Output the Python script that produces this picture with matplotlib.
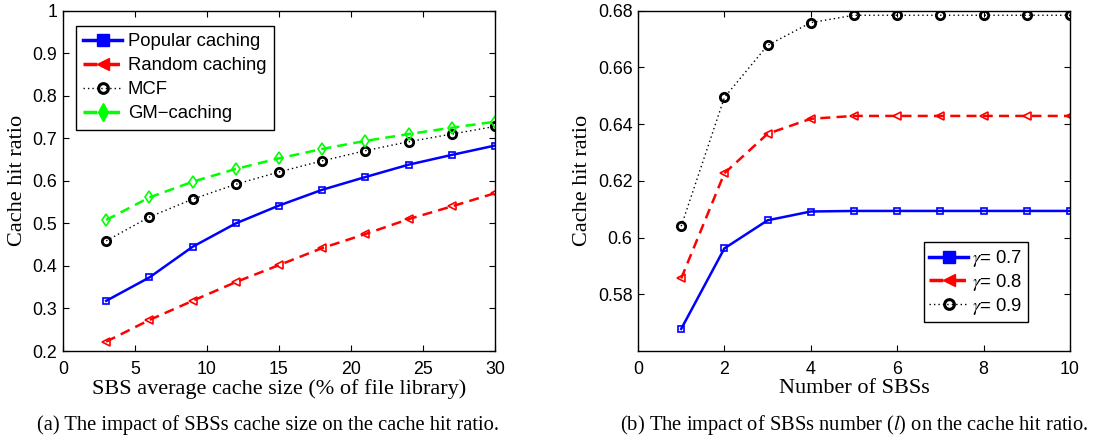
import numpy as np
import matplotlib.pyplot as plt
from matplotlib.lines import Line2D
from matplotlib.ticker import FormatStrFormatter

# (a) cache size sweep
cache_size = [3, 6, 9, 12, 15, 18, 21, 24, 27, 30]
popular = [0.318, 0.373, 0.445, 0.500, 0.542, 0.579, 0.609, 0.638, 0.661, 0.683]
random_c = [0.222, 0.273, 0.318, 0.362, 0.402, 0.442, 0.475, 0.510, 0.540, 0.571]
mcf = [0.459, 0.515, 0.557, 0.592, 0.621, 0.647, 0.671, 0.692, 0.710, 0.728]
gm = [0.508, 0.561, 0.598, 0.628, 0.653, 0.675, 0.694, 0.710, 0.725, 0.739]

# (b) number of SBSs sweep
n_sbs = [1, 2, 3, 4, 5, 6, 7, 8, 9, 10]
g07 = [0.5678, 0.5962, 0.6061, 0.6092, 0.6094, 0.6094, 0.6094, 0.6094, 0.6094, 0.6094]
g08 = [0.5856, 0.6227, 0.6366, 0.6419, 0.6429, 0.6429, 0.6429, 0.6429, 0.6429, 0.6429]
g09 = [0.6040, 0.6494, 0.6678, 0.6758, 0.6784, 0.6784, 0.6784, 0.6784, 0.6784, 0.6784]

sans = 'Liberation Sans'
serif = 'Liberation Serif'
plt.rcParams['font.family'] = sans
plt.rcParams['mathtext.fontset'] = 'stix'

fig = plt.figure(figsize=(11.09, 4.41), dpi=100)
ax1 = fig.add_axes([0.0568, 0.204, 0.3895, 0.7717])
ax2 = fig.add_axes([0.5753, 0.204, 0.3895, 0.7717])

dash = (0, (4, 2.5))
mcf_dot = (0, (1, 2.2))

def style(ax):
    ax.tick_params(direction='in', top=True, right=True, labelsize=12.8,
                   length=4, width=0.8, pad=4)
    ax.tick_params(axis='x', pad=7)
    for s in ax.spines.values():
        s.set_linewidth(1.0)
    ax.set_ylabel('Cache hit ratio', fontfamily=serif, fontsize=16, labelpad=4)

ax1.plot(cache_size, popular, color='#0000ff', lw=1.8, marker='s', ms=5,
         mfc='none', mew=1.2)
ax1.plot(cache_size, random_c, color='#ff0000', lw=1.8, ls=dash, marker='<',
         ms=6, mfc='none', mew=1.2)
ax1.plot(cache_size, mcf, color='black', lw=1.0, ls=mcf_dot, marker='o', ms=6,
         mfc='none', mew=2.0)
ax1.plot(cache_size, gm, color='#00ff00', lw=1.8, ls=dash, marker='d', ms=6,
         mfc='none', mew=1.2)
ax1.set_xlim(0, 30)
ax1.set_ylim(0.2, 1.0)
ax1.set_xticks(np.arange(0, 31, 5))
ax1.set_yticks(np.arange(0.2, 1.01, 0.1))
ax1.yaxis.set_major_formatter(FormatStrFormatter('%g'))
ax1.set_xlabel('SBS average cache size (% of file library)', fontfamily=serif,
               fontsize=16, labelpad=1)
style(ax1)

h1 = [Line2D([], [], color='#0000ff', lw=2.5, marker='s', ms=8),
      Line2D([], [], color='#ff0000', lw=2.5, ls=dash, marker='<', ms=9),
      Line2D([], [], color='black', lw=1.0, ls=mcf_dot, marker='o', ms=7,
             mfc='none', mew=2.2),
      Line2D([], [], color='#00ff00', lw=2.5, ls=dash, marker='d', ms=9)]
leg1 = ax1.legend(h1, ['Popular caching', 'Random caching', 'MCF', 'GM\u2212caching'],
                  loc='upper left', bbox_to_anchor=(0.03, 0.955), fontsize=13.3,
                  fancybox=False, edgecolor='black', framealpha=1,
                  handlelength=2.1, handletextpad=0.3, borderpad=0.4,
                  labelspacing=0.38, borderaxespad=0)
leg1.get_frame().set_linewidth(1.0)

ax2.plot(n_sbs, g07, color='#0000ff', lw=1.8, marker='s', ms=5, mfc='none',
         mew=1.2)
ax2.plot(n_sbs, g08, color='#ff0000', lw=1.8, ls=dash, marker='<', ms=6,
         mfc='none', mew=1.2)
ax2.plot(n_sbs, g09, color='black', lw=1.0, ls=mcf_dot, marker='o', ms=6,
         mfc='none', mew=2.0)
ax2.set_xlim(0, 10)
ax2.set_ylim(0.56, 0.68)
ax2.set_xticks(np.arange(0, 11, 2))
ax2.set_yticks([0.58, 0.6, 0.62, 0.64, 0.66, 0.68])
ax2.yaxis.set_major_formatter(FormatStrFormatter('%g'))
ax2.set_xlabel('Number of SBSs', fontfamily=serif, fontsize=16, labelpad=1)
style(ax2)

h2 = [Line2D([], [], color='#0000ff', lw=2.5, marker='s', ms=8),
      Line2D([], [], color='#ff0000', lw=2.5, ls=dash, marker='<', ms=9),
      Line2D([], [], color='black', lw=1.0, ls=mcf_dot, marker='o', ms=7,
             mfc='none', mew=2.2)]
leg2 = ax2.legend(h2, ['$\\gamma$= 0.7', '$\\gamma$= 0.8', '$\\gamma$= 0.9'],
                  loc='lower right', bbox_to_anchor=(0.902, 0.085), fontsize=13.3,
                  fancybox=False, edgecolor='black', framealpha=1,
                  handlelength=2.1, handletextpad=0.2, borderpad=0.3,
                  labelspacing=0.15, borderaxespad=0)
leg2.get_frame().set_linewidth(1.0)

fig.text(0.2415, 0.036, '(a) The impact of SBSs cache size on the cache hit ratio.',
         ha='center', va='center', fontfamily=serif, fontsize=14.8)
fig.text(0.7705, 0.036, '(b) The impact of SBSs number ($l$) on the cache hit ratio.',
         ha='center', va='center', fontfamily=serif, fontsize=14.8)

fig.savefig('out.png', dpi=100)
